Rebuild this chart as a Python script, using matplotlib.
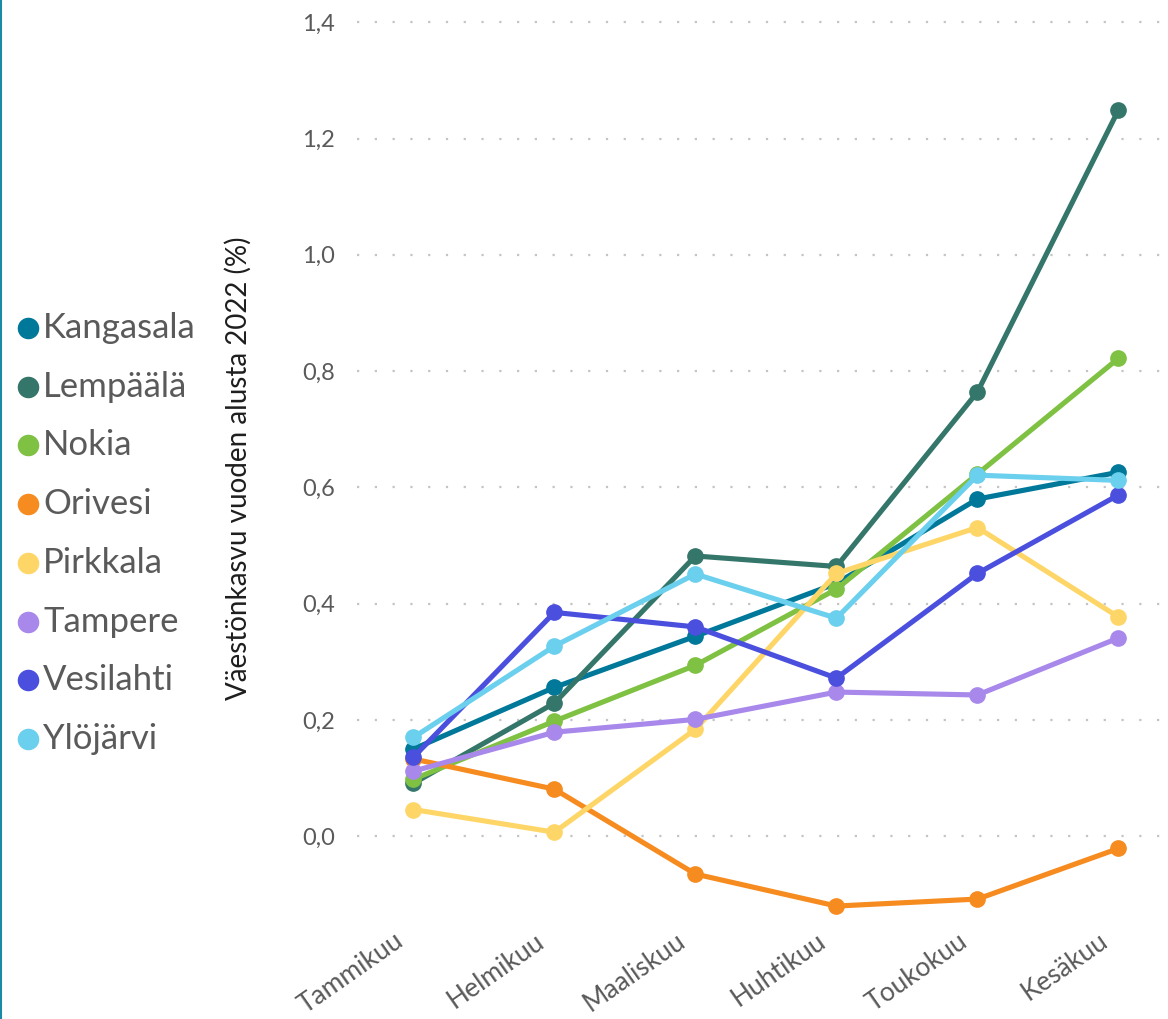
import matplotlib

matplotlib.use("Agg")
import matplotlib.pyplot as plt
import matplotlib.transforms as mtransforms
from matplotlib.lines import Line2D

months = ["Tammikuu", "Helmikuu", "Maaliskuu", "Huhtikuu", "Toukokuu", "Kesäkuu"]

kangasala = [0.150, 0.256, 0.344, 0.435, 0.580, 0.626]
lempaala = [0.091, 0.229, 0.482, 0.464, 0.764, 1.249]
nokia = [0.098, 0.198, 0.294, 0.425, 0.623, 0.822]
orivesi = [0.133, 0.081, -0.065, -0.120, -0.108, -0.021]
pirkkala = [0.046, 0.007, 0.184, 0.452, 0.531, 0.377]
tampere = [0.112, 0.179, 0.201, 0.248, 0.243, 0.341]
vesilahti = [0.136, 0.385, 0.360, 0.272, 0.452, 0.587]
ylojarvi = [0.170, 0.327, 0.451, 0.375, 0.621, 0.612]

series = [
    ("Kangasala", kangasala, "#00789a"),
    ("Lempäälä", lempaala, "#35766a"),
    ("Nokia", nokia, "#7fc142"),
    ("Orivesi", orivesi, "#f68b1f"),
    ("Pirkkala", pirkkala, "#fed668"),
    ("Tampere", tampere, "#a888ea"),
    ("Vesilahti", vesilahti, "#4b4fde"),
    ("Ylöjärvi", ylojarvi, "#6bcfee"),
]

plt.rcParams["font.family"] = ["Lato", "DejaVu Sans"]

W, H = 1168, 1019
fig = plt.figure(figsize=(W / 100, H / 100), dpi=100)
ax = fig.add_axes([357 / W, 1 - 920 / H, (1165 - 357) / W, (920 - 10) / H])

x = list(range(len(months)))
for name, vals, color in series:
    ax.plot(x, vals, color=color, linewidth=3.7, marker="o", markersize=11,
            solid_joinstyle="round", solid_capstyle="round", zorder=3)

ax.set_xlim(-0.4, 5.33)
ax.set_ylim(-0.144, 1.421)
ax.set_yticks([0.0, 0.2, 0.4, 0.6, 0.8, 1.0, 1.2, 1.4])
ax.set_yticklabels([f"{v:.1f}".replace(".", ",") for v in ax.get_yticks()])
ax.set_xticks(x)
ax.set_xticklabels(months, rotation=35, ha="right", rotation_mode="anchor")

ax.grid(axis="y", color="#c4c4c4", linestyle=(0, (1, 7)), linewidth=1.6)
ax.set_axisbelow(True)
for s in ax.spines.values():
    s.set_visible(False)
ax.tick_params(axis="y", length=0, labelsize=17, colors="#5a5a5a", pad=16)
ax.tick_params(axis="x", length=0, labelsize=19, colors="#5a5a5a", pad=6)

# shift month labels a bit to the left like the original
shift = mtransforms.ScaledTranslation(-20 / 100, 0, fig.dpi_scale_trans)
for lbl in ax.get_xticklabels():
    lbl.set_transform(lbl.get_transform() + shift)

fig.text(238 / W, 1 - 468 / H, "Väestönkasvu vuoden alusta 2022 (%)", rotation=90,
         ha="center", va="center", fontsize=20, color="#1e1e1e")

# legend drawn by hand
y0 = 328
for i, (name, vals, color) in enumerate(series):
    yy = 1 - (y0 + i * 58.7) / H
    fig.add_artist(Line2D([28 / W], [yy], marker="o", markersize=14.5, color=color,
                          linestyle="none", transform=fig.transFigure))
    fig.text(43 / W, yy, name, ha="left", va="center", fontsize=25, color="#5a5a5a")

# teal border at left edge
fig.add_artist(Line2D([1 / W, 1 / W], [0, 1], color="#1b8aa6", linewidth=1.5,
                      transform=fig.transFigure))

fig.savefig("out.png", dpi=100)
